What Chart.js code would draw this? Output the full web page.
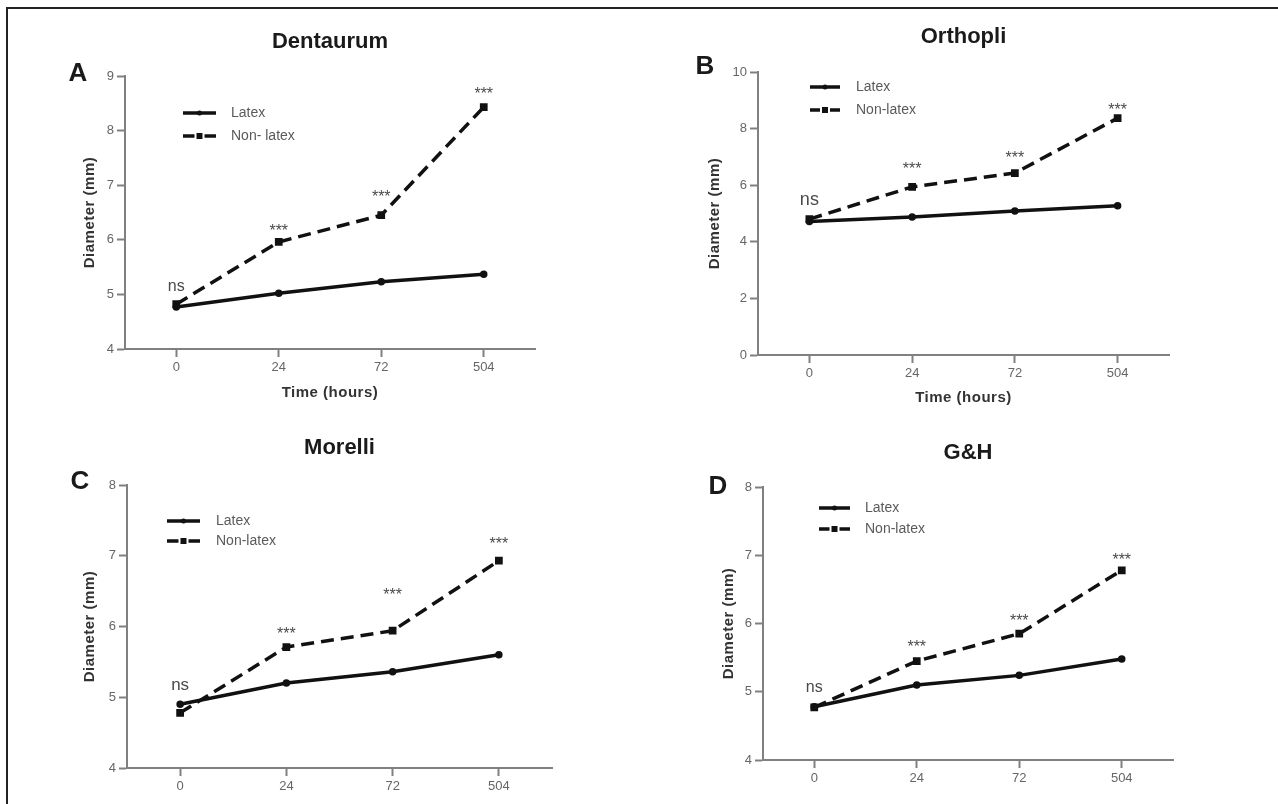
<!DOCTYPE html>
<html>
<head>
<meta charset="utf-8">
<title>Diameter over time</title>
<script src="https://cdn.jsdelivr.net/npm/chart.js@4.4.1/dist/chart.umd.min.js"></script>
<style>
  body { margin: 0; background: #fff; width: 1278px; height: 804px; overflow: hidden; position: relative; }
  #frame { position: absolute; left: 6px; top: 7px; right: -10px; bottom: -10px; border-top: 2px solid #222; border-left: 2px solid #222; }
  canvas { position: absolute; }
</style>
</head>
<body>
<div id="frame"></div>
<canvas id="panelA" width="640" height="410" style="left:0;top:0"></canvas>
<canvas id="panelB" width="638" height="410" style="left:640px;top:0"></canvas>
<canvas id="panelC" width="640" height="394" style="left:0;top:410px"></canvas>
<canvas id="panelD" width="638" height="394" style="left:640px;top:410px"></canvas>
<script>
// Time points (hours)
const timeLabels = ['0', '24', '72', '504'];
const sigLabels = ['ns', '***', '***', '***'];

// Dentaurum
const dentaurumLatex = [4.77, 5.02, 5.23, 5.37];
const dentaurumNonLatex = [4.82, 5.96, 6.45, 8.43];
const dentaurumSigY = [5.14, 6.23, 6.86, 8.74];
const dentaurumTicks = [4, 5, 6, 7, 8, 9];

// Orthopli
const orthopliLatex = [4.72, 4.88, 5.09, 5.27];
const orthopliNonLatex = [4.80, 5.94, 6.43, 8.37];
const orthopliSigY = [5.48, 6.71, 7.10, 8.80];
const orthopliTicks = [0, 2, 4, 6, 8, 10];

// Morelli
const morelliLatex = [4.90, 5.20, 5.36, 5.60];
const morelliNonLatex = [4.78, 5.71, 5.94, 6.93];
const morelliSigY = [5.16, 5.95, 6.50, 7.22];
const morelliTicks = [4, 5, 6, 7, 8];

// G&H
const ghLatex = [4.78, 5.10, 5.24, 5.48];
const ghNonLatex = [4.77, 5.45, 5.85, 6.78];
const ghSigY = [5.05, 5.71, 6.09, 6.99];
const ghTicks = [4, 5, 6, 7, 8];

const FONT = 'Arial, "Liberation Sans", sans-serif';

// titles, panel letters, axis titles, legend and significance marks
const decor = {
    id: 'decor',
    afterDraw(chart, args, o) {
        const ctx = chart.ctx;
        const a = chart.chartArea;
        const xs = chart.scales.x, ys = chart.scales.y;
        ctx.save();

        ctx.fillStyle = '#1a1a1a';
        ctx.textAlign = 'center';
        ctx.textBaseline = 'middle';
        ctx.font = 'bold 22px ' + FONT;
        ctx.fillText(o.title, (a.left + a.right) / 2, o.titleY);

        ctx.font = 'bold 26px ' + FONT;
        ctx.fillText(o.letter, o.letterX, o.letterY);

        ctx.fillStyle = '#333';
        ctx.font = 'bold 15px ' + FONT;
        ctx.letterSpacing = '0.5px';
        if (o.xTitle) {
            ctx.fillText(o.xTitle, (a.left + a.right) / 2, o.xTitleY);
        }
        ctx.save();
        ctx.translate(o.yTitleX, (a.top + a.bottom) / 2);
        ctx.rotate(-Math.PI / 2);
        ctx.fillText('Diameter (mm)', 0, 0);
        ctx.restore();
        ctx.letterSpacing = '0px';

        // legend
        chart.data.datasets.forEach((ds, i) => {
            const y = o.legRows[i];
            const mx = (o.legX0 + o.legX1) / 2;
            ctx.strokeStyle = '#111';
            ctx.lineWidth = 3.5;
            ctx.beginPath();
            if (ds.borderDash) {
                ctx.moveTo(o.legX0, y);
                ctx.lineTo(mx - 5, y);
                ctx.moveTo(mx + 5, y);
                ctx.lineTo(o.legX1, y);
            } else {
                ctx.moveTo(o.legX0, y);
                ctx.lineTo(o.legX1, y);
            }
            ctx.stroke();
            ctx.fillStyle = '#111';
            if (ds.pointStyle === 'rect') {
                ctx.fillRect(mx - 3, y - 3, 6, 6);
            } else {
                ctx.beginPath();
                ctx.arc(mx, y, 2.5, 0, Math.PI * 2);
                ctx.fill();
            }
            ctx.fillStyle = '#5a5a5a';
            ctx.font = '14px ' + FONT;
            ctx.textAlign = 'left';
            ctx.fillText(ds.label, o.legText, y);
        });

        // significance marks
        ctx.fillStyle = '#4a4a4a';
        ctx.textAlign = 'center';
        ctx.textBaseline = 'alphabetic';
        sigLabels.forEach((s, i) => {
            const px = xs.getPixelForValue(i);
            const py = ys.getPixelForValue(o.sigY[i]);
            if (s === 'ns') {
                ctx.font = o.nsSize + 'px ' + FONT;
                ctx.fillText(s, px, py + o.nsSize * 0.26);
            } else {
                ctx.font = '16px ' + FONT;
                ctx.fillText(s, px, py + 16 * 0.57);
            }
        });
        ctx.restore();
    }
};

function makePanel(id, p) {
    const ticks = p.ticks;
    return new Chart(document.getElementById(id), {
        type: 'line',
        data: {
            labels: timeLabels,
            datasets: [{
                label: 'Latex',
                data: p.latex,
                borderColor: '#111',
                backgroundColor: '#111',
                borderWidth: 3.5,
                pointStyle: 'circle',
                pointRadius: 2,
                tension: 0
            }, {
                label: p.nonLatexName,
                data: p.nonLatex,
                borderColor: '#111',
                backgroundColor: '#111',
                borderWidth: 3.5,
                borderDash: [13, 7],
                pointStyle: 'rect',
                pointRadius: 3,
                tension: 0
            }]
        },
        options: {
            responsive: false,
            animation: false,
            devicePixelRatio: 1,
            layout: { padding: p.padding },
            plugins: {
                legend: { display: false },
                tooltip: { enabled: false },
                decor: p.decor
            },
            scales: {
                x: {
                    offset: true,
                    afterFit: s => { s.height = 30; },
                    border: { display: true, color: '#808080', width: 2 },
                    grid: { display: true, drawOnChartArea: false, drawTicks: true, tickLength: 8, tickWidth: 2, color: '#808080' },
                    ticks: { color: '#666', padding: 3, font: { family: FONT, size: 13 } }
                },
                y: {
                    min: ticks[0],
                    max: ticks[ticks.length - 1],
                    afterFit: s => { s.width = 45; },
                    border: { display: true, color: '#808080', width: 2 },
                    grid: { display: true, drawOnChartArea: false, drawTicks: true, tickLength: 8, tickWidth: 2, color: '#808080' },
                    ticks: { stepSize: ticks[1] - ticks[0], color: '#666', padding: 3, font: { family: FONT, size: 13 } }
                }
            }
        },
        plugins: [decor]
    });
}

makePanel('panelA', {
    latex: dentaurumLatex, nonLatex: dentaurumNonLatex, nonLatexName: 'Non- latex', ticks: dentaurumTicks,
    padding: { left: 80, right: 105, top: 76, bottom: 31 },
    decor: { title: 'Dentaurum', titleY: 42, letter: 'A', letterX: 78, letterY: 74, xTitle: 'Time (hours)', xTitleY: 393,
        yTitleX: 90, legX0: 183, legX1: 216, legText: 231, legRows: [113, 136], sigY: dentaurumSigY, nsSize: 16 }
});

makePanel('panelB', {
    latex: orthopliLatex, nonLatex: orthopliNonLatex, nonLatexName: 'Non-latex', ticks: orthopliTicks,
    padding: { left: 73, right: 109, top: 72, bottom: 25 },
    decor: { title: 'Orthopli', titleY: 37, letter: 'B', letterX: 65, letterY: 67, xTitle: 'Time (hours)', xTitleY: 398,
        yTitleX: 75, legX0: 170, legX1: 200, legText: 216, legRows: [87, 110], sigY: orthopliSigY, nsSize: 18 }
});

makePanel('panelC', {
    latex: morelliLatex, nonLatex: morelliNonLatex, nonLatexName: 'Non-latex', ticks: morelliTicks,
    padding: { left: 82, right: 88, top: 75, bottom: 6 },
    decor: { title: 'Morelli', titleY: 38, letter: 'C', letterX: 80, letterY: 72, xTitle: null, xTitleY: 0,
        yTitleX: 90, legX0: 167, legX1: 200, legText: 216, legRows: [111, 131], sigY: morelliSigY, nsSize: 17 }
});

makePanel('panelD', {
    latex: ghLatex, nonLatex: ghNonLatex, nonLatexName: 'Non-latex', ticks: ghTicks,
    padding: { left: 78, right: 105, top: 77, bottom: 14 },
    decor: { title: 'G&H', titleY: 43, letter: 'D', letterX: 78, letterY: 77, xTitle: null, xTitleY: 0,
        yTitleX: 89, legX0: 179, legX1: 210, legText: 225, legRows: [98, 119], sigY: ghSigY, nsSize: 16 }
});
</script>
</body>
</html>
